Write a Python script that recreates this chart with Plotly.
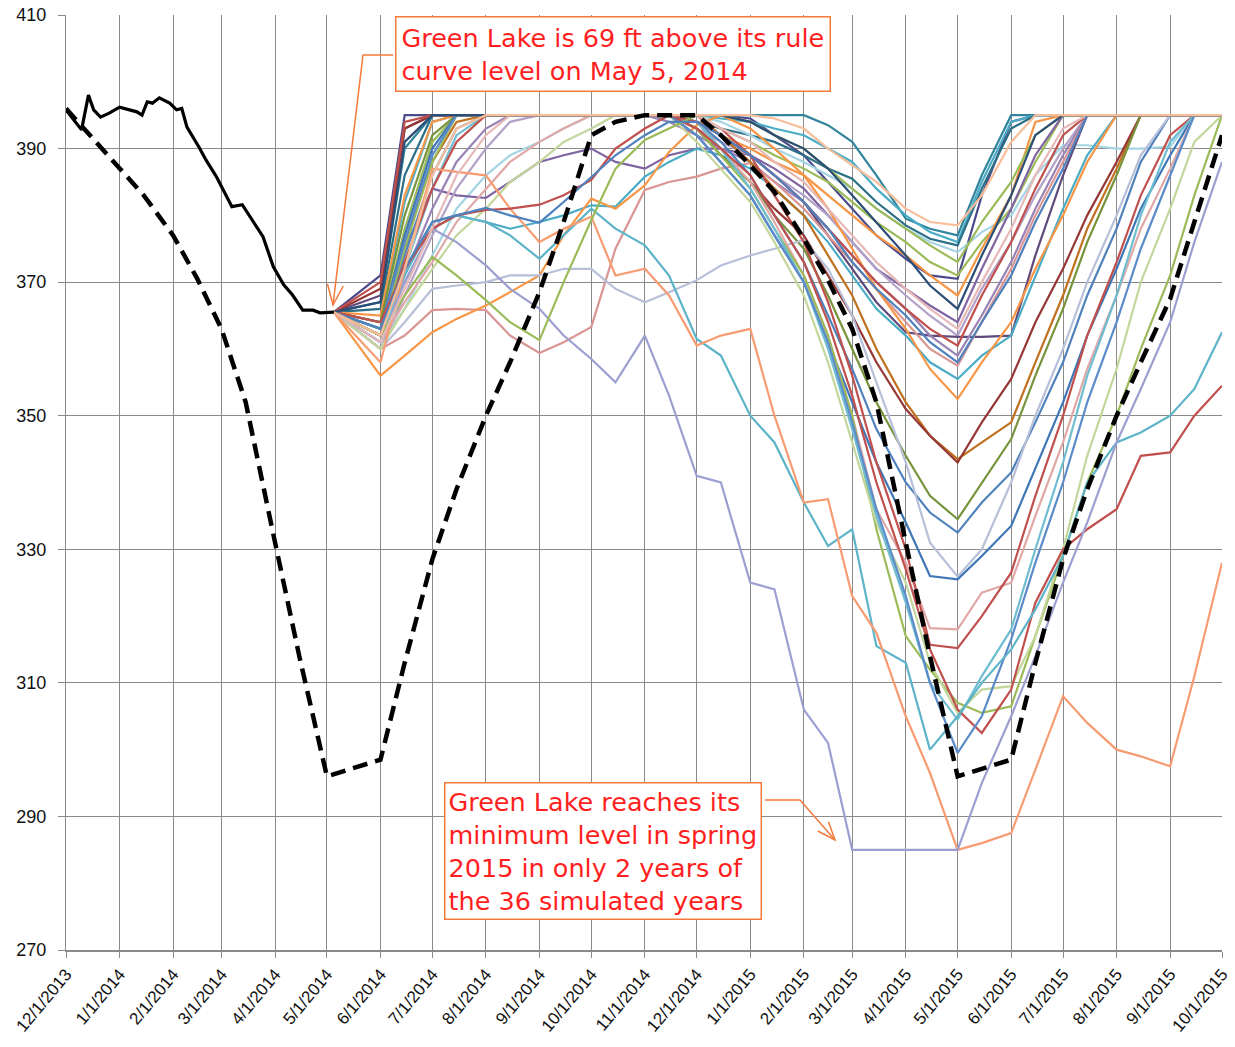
import plotly.graph_objects as go

# ---------------- data ----------------
OBS_DATES = ["2013-12-01", "2013-12-10", "2013-12-14", "2013-12-17", "2013-12-21", "2013-12-26",
             "2014-01-01", "2014-01-11", "2014-01-14", "2014-01-17", "2014-01-20", "2014-01-24",
             "2014-01-30", "2014-02-03", "2014-02-06", "2014-02-09", "2014-02-16", "2014-02-20",
             "2014-02-26", "2014-03-07", "2014-03-13", "2014-03-19", "2014-03-25", "2014-03-31",
             "2014-04-06", "2014-04-11", "2014-04-17", "2014-04-23", "2014-04-27", "2014-05-05"]
OBS_LEVEL = [395.8, 392.8, 398.0, 395.8, 394.7, 395.3,
             396.2, 395.5, 395.0, 397.0, 396.8, 397.6,
             396.8, 395.8, 396.0, 393.2, 390.2, 388.3,
             385.8, 381.3, 381.6, 379.3, 376.8, 372.3,
             369.6, 368.1, 365.8, 365.8, 365.4, 365.5]

RULE_DATES = ["2013-12-01", "2014-01-01", "2014-01-15", "2014-02-01", "2014-02-15", "2014-03-01",
              "2014-03-15", "2014-04-01", "2014-04-15", "2014-05-01", "2014-06-01", "2014-06-15",
              "2014-07-01", "2014-07-15", "2014-08-01", "2014-08-15", "2014-09-01", "2014-09-15",
              "2014-10-01", "2014-10-15", "2014-11-01", "2014-12-01", "2014-12-15", "2015-01-01",
              "2015-01-15", "2015-02-01", "2015-02-15", "2015-03-01", "2015-03-15", "2015-04-01",
              "2015-04-15", "2015-05-01", "2015-06-01", "2015-06-15", "2015-07-01", "2015-07-15",
              "2015-08-01", "2015-08-15", "2015-09-01", "2015-09-15", "2015-10-01"]
RULE_LEVEL = [396.0, 387.0, 383.0, 377.0, 370.5, 363.0,
              352.0, 331.0, 314.0, 296.0, 298.5, 313.0,
              328.5, 339.0, 350.0, 358.0, 368.5, 379.0,
              392.0, 394.0, 395.0, 395.0, 392.0, 387.5,
              383.5, 376.5, 370.3, 363.0, 352.0, 331.0,
              314.0, 296.0, 298.5, 313.0, 328.5, 339.0,
              350.0, 358.0, 367.5, 379.0, 392.0]

SIM_DATES = ["2014-05-05", "2014-06-01", "2014-06-15", "2014-07-01", "2014-07-15",
             "2014-08-01", "2014-08-15", "2014-09-01", "2014-09-15", "2014-10-01",
             "2014-10-15", "2014-11-01", "2014-11-15", "2014-12-01", "2014-12-15",
             "2015-01-01", "2015-01-15", "2015-02-01", "2015-02-15", "2015-03-01",
             "2015-03-15", "2015-04-01", "2015-04-15", "2015-05-01", "2015-05-15",
             "2015-06-01", "2015-06-15", "2015-07-01", "2015-07-15", "2015-08-01",
             "2015-08-15", "2015-09-01", "2015-09-15", "2015-10-01"]

s01 = [365.5, 371, 395, 395, 395, 395, 395, 395, 395, 395, 395, 395, 395, 395, 395,
       394.5, 392, 389, 385, 381, 377, 373.5, 371, 370.5, 383, 394, 395, 395, 395, 395,
       395, 395, 395, 395]
s02 = [365.5, 367, 390, 395, 395, 395, 395, 395, 395, 395, 395, 395, 395, 395, 395,
       395, 395, 395, 393.5, 391, 386, 379.5, 378, 377, 386, 395, 395, 395, 395, 395,
       395, 395, 395, 395]
s03 = [365.5, 364, 382, 394, 395, 395, 395, 395, 395, 395, 395, 395, 395, 395, 394.5,
       394, 393, 392, 390, 388, 384, 380, 377.5, 376, 385, 394, 395, 395, 395, 395,
       395, 395, 395, 395]
s04 = [365.5, 366, 386, 395, 395, 395, 395, 395, 395, 395, 395, 395, 395, 394, 393,
       392, 391, 389, 387, 385.5, 382, 378.5, 376.5, 375.5, 384, 393, 395, 395, 395, 395,
       395, 395, 395, 395]
s05 = [365.5, 362, 372, 386, 393, 395, 395, 395, 395, 395, 395, 395, 395, 395, 395,
       395, 394.5, 393, 390, 387.5, 385, 381, 379, 378.5, 383, 391, 395, 395, 395, 395,
       395, 395, 395, 395]
s06 = [365.5, 361, 366, 374, 381, 386, 389, 391, 393, 395, 395, 395, 395, 395, 394,
       392, 390, 388, 386, 384, 381, 378, 376, 374.5, 377.5, 380, 386, 390.5, 390.5, 390,
       390, 390.3, 395, 395]
s07 = [365.5, 363, 378, 391, 395, 395, 395, 395, 395, 395, 395, 395, 395, 395, 393,
       391, 389, 387, 385, 382, 379, 376, 373, 371, 376, 381, 388, 395, 395, 395,
       395, 395, 395, 395]
s08 = [365.5, 365, 383, 394, 395, 395, 395, 395, 395, 395, 395, 395, 395, 394, 392,
       390, 388, 386, 383, 380, 377, 374, 371, 368, 375, 383, 394, 395, 395, 395,
       395, 395, 395, 395]
s09 = [365.5, 364, 375, 384, 383, 382.6, 385, 388, 389, 390, 388, 387, 389, 390, 390,
       389, 387, 384, 380, 376, 372, 369, 366.5, 364, 372, 381, 389, 395, 395, 395,
       395, 395, 395, 395]
s10 = [365.5, 360, 368, 377, 384, 390, 394, 395, 395, 395, 395, 395, 395, 393, 391,
       389, 386, 383, 380, 376, 372, 368, 365, 362, 369, 376, 383, 390, 395, 395,
       395, 395, 395, 395]
s11 = [365.5, 368, 393, 395, 395, 395, 395, 395, 395, 395, 395, 395, 395, 394, 392,
       389, 386, 382, 377, 372, 367, 362.5, 362, 361.8, 361.8, 362, 374, 386, 395, 395,
       395, 395, 395, 395]
s12 = [365.5, 362, 371, 381, 388, 393, 395, 395, 395, 395, 395, 395, 394, 392, 390,
       388, 385, 382, 378, 374, 370, 366, 362, 359, 365, 373, 381, 389, 395, 395,
       395, 395, 395, 395]
s13 = [365.5, 360, 362, 365.8, 366, 365.8, 362, 359.4, 361, 363.3, 375, 383.8, 385, 385.8, 387,
       387.8, 385, 381, 377, 373, 369, 364, 360, 357.5, 364, 372, 380, 388, 395, 395,
       395, 395, 395, 395]
s14 = [365.5, 362, 370, 378, 380, 379, 378, 379, 380, 381.5, 381.3, 385.8, 388, 390, 389,
       387, 384, 380, 376, 371, 366, 362, 358, 355.5, 359, 362, 371, 381, 389, 395,
       395, 395, 395, 395]
s15 = [365.5, 356, 359, 362.5, 364.5, 366.5, 368.5, 371, 377, 382.5, 381, 384.5, 389.5, 393.5, 395,
       393, 390, 386, 381, 375, 369, 363, 357, 352.5, 358, 364, 372, 380, 388, 395,
       395, 395, 395, 395]
s16 = [365.5, 363, 376, 388, 394, 395, 395, 395, 395, 395, 395, 395, 395, 395, 392,
       388, 384, 380, 374, 368, 360, 352, 347, 343.5, 346, 349, 358, 368, 378, 387,
       395, 395, 395, 395]
s17 = [365.5, 369, 393, 395, 395, 395, 395, 395, 395, 395, 395, 395, 395, 393, 389,
       385, 381, 377, 371, 365, 358, 351, 347, 343, 349, 355.5, 364, 372, 380, 388,
       395, 395, 395, 395]
s18 = [365.5, 364, 380, 392, 395, 395, 395, 395, 395, 395, 395, 395, 395, 393, 389,
       385, 380, 375, 368, 360, 352, 344, 338, 334.5, 340, 346.5, 356, 366, 376, 386,
       395, 395, 395, 395]
s19 = [365.5, 362, 374, 386, 393, 395, 395, 395, 395, 395, 395, 395, 395, 394, 391,
       386, 380, 373, 365, 357, 348, 340, 335.5, 332.5, 337, 341.5, 349, 358, 368, 378,
       388, 395, 395, 395]
s20 = [365.5, 360, 364, 369, 369.5, 370, 371, 371, 372, 372, 369, 367, 368.5, 370.3, 372.5,
       374, 375, 376.3, 372, 365, 355, 343, 331, 325.9, 330, 340, 350, 360, 370, 380,
       389, 395, 395, 395]
s21 = [365.5, 363, 377, 390, 395, 395, 395, 395, 395, 395, 395, 395, 395, 392, 388,
       383, 377, 370, 361, 352, 343, 334, 326, 325.5, 329, 333.5, 342, 352, 362, 372,
       381, 389, 395, 395]
s22 = [365.5, 361, 367, 373, 379, 384, 388, 391, 393, 395, 395, 395, 395, 394, 390,
       385, 379, 371, 362, 350, 336, 328, 318.2, 318, 323.5, 325, 335, 346, 357, 368,
       378, 387, 395, 395]
s23 = [365.5, 370, 394, 395, 395, 395, 395, 395, 395, 395, 395, 395, 395, 395, 393,
       389, 383, 376, 367, 356, 343, 330, 315.7, 315.2, 320, 326.5, 338, 350, 362, 373,
       383, 392, 395, 395]
s24 = [365.5, 362, 375, 388, 395, 395, 395, 395, 395, 395, 395, 395, 395, 393, 389,
       384, 378, 371, 362, 350, 333, 317, 312, 307, 305.5, 306.5, 317, 329, 340, 350,
       360, 371, 383, 395]
s25 = [365.5, 360, 366, 372, 377, 381, 385, 388, 391, 393, 395, 395, 395, 391, 387,
       382, 376, 368, 358, 346, 334, 325, 313, 305.5, 309, 309.5, 317, 330, 344, 357,
       370, 381, 391, 395]
s26 = [365.5, 361, 372, 384, 392, 395, 395, 395, 395, 395, 395, 395, 395, 394, 390,
       384, 378, 370, 360, 348, 335, 322, 310, 304.5, 311, 318, 330, 343, 356, 368,
       380, 391, 395, 395]
s27 = [365.5, 362, 373, 384, 391, 395, 395, 395, 395, 395, 395, 395, 395, 393, 390,
       386, 380, 373, 364, 353, 340, 327, 315, 306, 302.5, 309, 322, 330, 333, 336,
       344, 344.5, 350, 354.5]
s28 = [365.5, 363, 376, 389, 395, 395, 395, 395, 395, 395, 395, 395, 395, 392, 388,
       383, 377, 370, 361, 349, 336, 323, 310, 299.5, 305, 316.5, 328, 340, 352, 364,
       375, 386, 395, 395]
s29 = [365.5, 363, 371, 379, 380, 379, 377, 373.5, 377, 381, 378, 375.5, 371, 361.5, 359,
       350, 346, 337, 330.5, 333, 315.5, 313, 300, 305, 310, 315, 321, 329, 340, 346,
       347.5, 350, 354, 362.5]
s30 = [365.5, 358, 372, 387, 386.5, 386, 381, 376, 378, 379.8, 371, 372, 368, 360.5, 362,
       363, 350, 337, 337.5, 323, 317.5, 305, 296.5, 285, 286, 287.5, 297, 308, 304, 300,
       299, 297.5, 311, 328]
s31 = [365.5, 361, 370, 378, 376, 372.5, 369, 366, 362, 358.5, 355, 362, 353, 341, 340,
       325, 324, 306, 301, 285, 285, 285, 285, 285, 295, 305, 314, 325, 334, 346,
       354, 364, 376, 388]
s32 = [365.5, 364, 372, 378, 380, 380.8, 381, 381.6, 383, 385.3, 390, 393, 395, 394, 392,
       389, 386, 382, 378, 374, 370, 366, 363, 360.5, 368, 376, 384, 392, 395, 395,
       395, 395, 395, 395]
s33 = [365.5, 362, 368, 373.8, 371, 367.3, 364, 361.3, 370, 379.3, 387, 391.3, 393, 395, 395,
       394, 392, 390, 387, 384, 381, 378, 375.5, 373, 379, 385, 392, 395, 395, 395,
       395, 395, 395, 395]
s34 = [365.5, 361, 369, 378, 386, 392, 395, 395, 395, 395, 395, 395, 395, 395, 393,
       391, 388, 385, 381, 377, 373, 369, 366, 363, 370, 378, 386, 393, 395, 395,
       395, 395, 395, 395]
s35 = [365.5, 363, 372, 379, 380, 381.1, 380, 378.9, 382, 385.8, 389, 392, 394, 394, 392,
       389, 386, 382, 378, 373, 369, 365, 361, 358, 364, 371, 379, 387, 395, 395,
       395, 395, 395, 395]
s36 = [365.5, 367, 391, 395, 395, 395, 395, 395, 395, 395, 395, 395, 395, 395, 395,
       394, 392, 390, 387, 383, 379, 374, 369.5, 366, 374, 383, 392, 395, 395, 395,
       395, 395, 395, 395]

# drawing order (the light peach year is drawn last, as in the original chart)
SIMS = [s01, s02, s03, s04, s06, s07, s08, s09, s10, s11, s12,
        s13, s14, s15, s16, s17, s18, s19, s20, s21, s22, s23, s24,
        s25, s26, s27, s28, s29, s30, s31, s32, s33, s34, s35, s36, s05]
SIM_COLORS = ["#4B4B8C", "#31859C", "#4BACC6", "#2A6F86", "#A5D5E3",
              "#9BBB59", "#F79646", "#8064A2", "#B3A2C7", "#604A7B", "#9983B5",
              "#D99694", "#4BACC6", "#F79646", "#C0701E", "#953735", "#77933C",
              "#4F81BD", "#B7C0D8", "#3F76B5", "#E0A8A6", "#C0504D", "#9BBB59",
              "#C3D69B", "#6FBDD1", "#C0504D", "#5B8BC9", "#5DB3C8", "#F79C72",
              "#9C9FD0", "#C0504D", "#9BBB59", "#E6B9B8", "#4F81BD", "#2C4D75", "#F8BE9A"]

for i, s in enumerate(SIMS):
    assert len(s) == len(SIM_DATES), (i + 1, len(s))

# ---------------- figure ----------------
fig = go.Figure()
for i, (vals, col) in enumerate(zip(SIMS, SIM_COLORS)):
    fig.add_trace(go.Scatter(x=SIM_DATES, y=vals, mode="lines",
                             line=dict(color=col, width=2.2),
                             name="Sim %d" % (i + 1), hoverinfo="skip"))

fig.add_trace(go.Scatter(x=RULE_DATES, y=RULE_LEVEL, mode="lines",
                         line=dict(color="black", width=4.5, dash="15px,8px"),
                         name="Rule curve", hoverinfo="skip"))
fig.add_trace(go.Scatter(x=OBS_DATES, y=OBS_LEVEL, mode="lines",
                         line=dict(color="black", width=3.2),
                         name="Observed", hoverinfo="skip"))

W, H = 1235, 1047
L, R, T, B = 66, 1222, 15, 950


def px(xp):
    return (xp - L) / (R - L)


def py(yp):
    return 1 - (yp - T) / (B - T)


GRID = "#8A8A8A"
fig.update_layout(
    width=W, height=H,
    margin=dict(l=L, r=W - R, t=T, b=H - B, autoexpand=False),
    paper_bgcolor="white", plot_bgcolor="white",
    showlegend=False,
    xaxis=dict(type="date", range=["2013-12-01", "2015-10-01"], automargin=False,
               tick0="2013-12-01", dtick="M1", tickformat="%-m/%-d/%Y",
               tickangle=-50, showgrid=True, gridcolor=GRID, gridwidth=1,
               ticks="outside", ticklen=6, tickcolor=GRID,
               showline=True, linecolor=GRID, linewidth=1.5, zeroline=False,
               tickfont=dict(family="Liberation Sans, Arial", size=17, color="#111111")),
    yaxis=dict(range=[270, 410], tick0=270, dtick=20, automargin=False,
               showgrid=True, gridcolor=GRID, gridwidth=1,
               ticks="outside", ticklen=7, tickcolor=GRID, ticklabelstandoff=8,
               showline=True, linecolor=GRID, linewidth=1, zeroline=False,
               tickfont=dict(family="Liberation Sans, Arial", size=18, color="#111111")),
)

RED = "#FF1F1F"
ORANGE = "#F47A3A"
fig.add_annotation(xref="paper", yref="paper", x=px(612.5), y=py(54),
                   xanchor="center", yanchor="middle", showarrow=False, align="left",
                   text="Green Lake is 69 ft above its rule<br>curve level on May 5, 2014",
                   font=dict(family="DejaVu Sans", size=25.5, color=RED),
                   bgcolor="white", bordercolor=ORANGE, borderwidth=1.5, borderpad=5)
fig.add_annotation(xref="paper", yref="paper", x=px(602.5), y=py(850.5),
                   xanchor="center", yanchor="middle", showarrow=False, align="left",
                   text="Green Lake reaches its<br>minimum level in spring<br>2015 in only 2 years of<br>the 36 simulated years",
                   font=dict(family="DejaVu Sans", size=25.5, color=RED),
                   bgcolor="white", bordercolor=ORANGE, borderwidth=1.5, borderpad=3)


def path(points):
    return "M " + " L ".join("%f,%f" % (px(a), py(b)) for a, b in points)


for pts in ([(393, 55), (363, 55), (333, 305)],
            [(327.5, 284), (333, 305), (343.3, 286)],
            [(765, 800), (800, 800), (835, 840)],
            [(828.4, 821.8), (835, 840), (817.8, 831)]):
    fig.add_shape(type="path", xref="paper", yref="paper", path=path(pts),
                  line=dict(color=ORANGE, width=1.5))

fig.write_html("out.html", include_plotlyjs=True, config={"displayModeBar": False},
               post_script="document.body.style.margin='0';document.body.style.overflow='hidden';")
